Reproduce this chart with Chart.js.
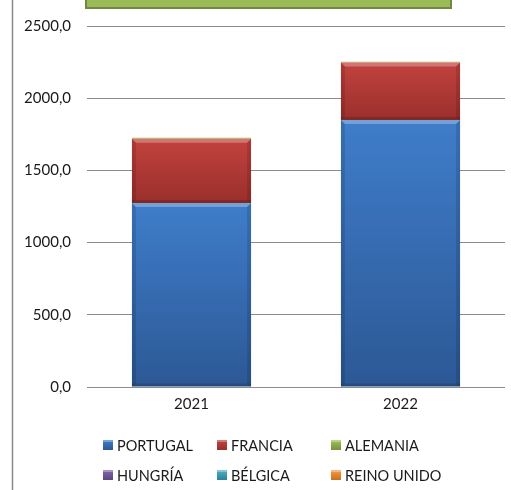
<!DOCTYPE html>
<html>
<head>
<meta charset="utf-8">
<script src="https://cdn.jsdelivr.net/npm/chart.js@4/dist/chart.umd.min.js"></script>
<style>
html,body{margin:0;padding:0;background:#fff;}
#wrap{position:relative;width:511px;height:490px;}
</style>
</head>
<body>
<div id="wrap"><canvas id="c" width="511" height="490"></canvas></div>
<script>
const categories = ['2021', '2022'];
const seriesNames = ['PORTUGAL', 'FRANCIA', 'ALEMANIA', 'HUNGRÍA', 'BÉLGICA', 'REINO UNIDO'];
const portugal = [1274, 1849];
const francia = [446, 398];
const alemania = [6, 6];
const hungria = [0, 0];
const belgica = [0, 0];
const reinoUnido = [0, 0];
const yTicks = [0, 500, 1000, 1500, 2000, 2500];

const seriesValues = [portugal, francia, alemania, hungria, belgica, reinoUnido];
const topColors = ['#3f7dca', '#c2423e', '#a0c25c', '#8467a8', '#4fb0ca', '#f89a4c'];
const botColors = ['#2c5895', '#9a2f2c', '#76913c', '#5c4580', '#2f8097', '#c8701f'];
const legendColors = ['#3e74bb', '#b43a37', '#8fb04a', '#71539a', '#3f9fbb', '#e8852c'];

const FONT = 'Lato, "Liberation Sans", sans-serif';

function barColor(ctx, i) {
  const chart = ctx.chart;
  if (!chart.chartArea || !chart.scales.y) return legendColors[i];
  const idx = ctx.dataIndex;
  let start = 0;
  for (let k = 0; k < i; k++) start += seriesValues[k][idx];
  const val = seriesValues[i][idx];
  const y = chart.scales.y;
  const yTop = y.getPixelForValue(start + val);
  const yBot = y.getPixelForValue(start);
  if (!isFinite(yTop) || !isFinite(yBot) || Math.abs(yBot - yTop) < 1) return topColors[i];
  const g = chart.ctx.createLinearGradient(0, yTop, 0, yBot);
  g.addColorStop(0, topColors[i]);
  g.addColorStop(1, botColors[i]);
  return g;
}

const datasets = seriesNames.map((name, i) => ({
  label: name,
  data: seriesValues[i],
  backgroundColor: (ctx) => barColor(ctx, i),
  borderWidth: 0,
  barPercentage: 0.57,
  categoryPercentage: 1.0,
  stack: 's'
}));

const decoPlugin = {
  id: 'deco',
  afterDatasetsDraw(chart) {
    const c = chart.ctx;
    c.save();
    chart.data.datasets.forEach((ds, i) => {
      const meta = chart.getDatasetMeta(i);
      meta.data.forEach(el => {
        const h = el.base - el.y;
        if (h < 6) return;
        const l = el.x - el.width / 2, r = el.x + el.width / 2;
        c.fillStyle = 'rgba(255,255,255,0.28)';
        c.beginPath();
        c.moveTo(l, el.y); c.lineTo(r, el.y); c.lineTo(r - 4, el.y + 4); c.lineTo(l + 4, el.y + 4); c.closePath();
        c.fill();
        c.fillStyle = 'rgba(0,0,0,0.12)';
        c.beginPath();
        c.moveTo(l, el.y); c.lineTo(l + 4, el.y + 4); c.lineTo(l + 4, el.base - 3); c.lineTo(l, el.base); c.closePath();
        c.fill();
        c.beginPath();
        c.moveTo(r, el.y); c.lineTo(r - 4, el.y + 4); c.lineTo(r - 4, el.base - 3); c.lineTo(r, el.base); c.closePath();
        c.fill();
        c.fillStyle = 'rgba(0,0,0,0.15)';
        c.fillRect(l, el.base - 3, el.width, 3);
      });
    });
    c.restore();
  },
  afterDraw(chart) {
    const c = chart.ctx;
    c.save();
    c.strokeStyle = '#8a8a8a';
    c.lineWidth = 1.5;
    c.beginPath(); c.moveTo(12.5, 0); c.lineTo(12.5, 490); c.stroke();
    c.fillStyle = '#9bbb59';
    c.fillRect(86, -10, 365, 18);
    c.strokeStyle = '#71893f';
    c.lineWidth = 2;
    c.strokeRect(86, -10, 365, 18);
    const colX = [103, 217, 331];
    const rowY = [445, 475];
    c.font = '14.5px ' + FONT;
    c.textBaseline = 'middle';
    c.textAlign = 'left';
    chart.data.datasets.forEach((ds, i) => {
      const x = colX[i % 3], y = rowY[Math.floor(i / 3)];
      const g = c.createLinearGradient(0, y - 5, 0, y + 5);
      g.addColorStop(0, topColors[i]);
      g.addColorStop(1, botColors[i]);
      c.fillStyle = g;
      c.fillRect(x, y - 5, 10, 10);
      c.fillStyle = 'rgba(255,255,255,0.3)';
      c.fillRect(x, y - 5, 10, 2);
      c.fillStyle = '#1a1a1a';
      c.fillText(ds.label, x + 14, y + 1);
    });
    c.restore();
  }
};

new Chart(document.getElementById('c'), {
  type: 'bar',
  data: { labels: categories, datasets },
  options: {
    responsive: false,
    animation: false,
    devicePixelRatio: 1,
    layout: { padding: { left: 12, right: 6, top: 26, bottom: 0 } },
    plugins: { legend: { display: false }, tooltip: { enabled: false }, title: { display: false } },
    scales: {
      x: {
        stacked: true,
        grid: { display: false, drawTicks: false },
        border: { display: false },
        ticks: { padding: 8, color: '#1a1a1a', font: { family: FONT, size: 15 } },
        afterFit(s) { s.height = 103; }
      },
      y: {
        stacked: true,
        min: 0, max: 2500,
        afterBuildTicks(s) { s.ticks = yTicks.map(v => ({ value: v })); },
        grid: { color: '#8c8c8c', lineWidth: 1, drawTicks: false },
        border: { display: false },
        ticks: {
          padding: 16, color: '#1a1a1a',
          font: { family: FONT, size: 15 },
          callback: v => v.toFixed(1).replace('.', ',')
        },
        afterFit(s) { s.width = 75; }
      }
    }
  },
  plugins: [decoPlugin]
});
</script>
</body>
</html>
